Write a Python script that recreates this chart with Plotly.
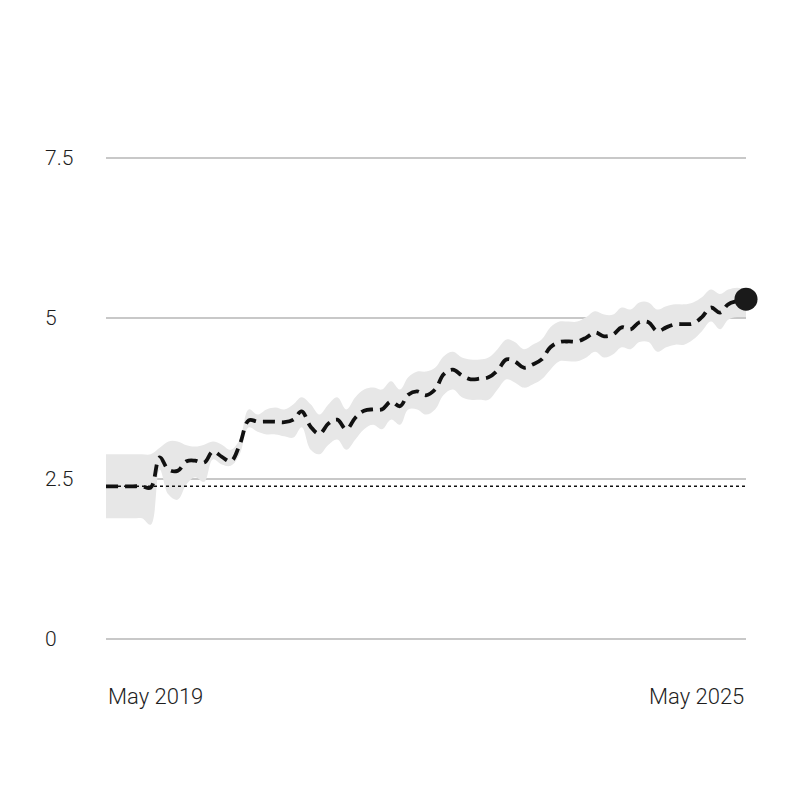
import pandas as pd
import plotly.graph_objects as go

dates = pd.date_range("2019-05-01", "2025-05-01", freq="MS")

line_values = [2.38, 2.38, 2.38, 2.38, 2.38, 2.36, 2.83, 2.64, 2.62, 2.77,
               2.78, 2.75, 2.92, 2.84, 2.77, 3.03, 3.41, 3.39, 3.39, 3.39,
               3.38, 3.42, 3.55, 3.31, 3.20, 3.36, 3.42, 3.27, 3.45, 3.56,
               3.58, 3.58, 3.70, 3.63, 3.81, 3.86, 3.80, 3.89, 4.13, 4.20,
               4.11, 4.05, 4.06, 4.08, 4.19, 4.36, 4.33, 4.23, 4.28, 4.36,
               4.55, 4.63, 4.64, 4.64, 4.70, 4.78, 4.72, 4.75, 4.86, 4.83,
               4.94, 4.94, 4.80, 4.86, 4.91, 4.91, 4.92, 5.02, 5.17, 5.09,
               5.22, 5.27, 5.30]

band_upper = [2.88, 2.88, 2.88, 2.88, 2.88, 2.88, 2.98, 3.08, 3.08, 3.02,
              3.00, 3.03, 3.08, 3.03, 2.95, 3.11, 3.58, 3.50, 3.58, 3.61,
              3.58, 3.66, 3.77, 3.66, 3.50, 3.66, 3.77, 3.58, 3.77, 3.89,
              3.92, 3.89, 4.02, 3.89, 4.08, 4.17, 4.17, 4.23, 4.41, 4.48,
              4.39, 4.36, 4.36, 4.39, 4.52, 4.67, 4.63, 4.52, 4.59, 4.67,
              4.86, 4.95, 4.95, 4.95, 5.02, 5.11, 5.06, 5.06, 5.17, 5.14,
              5.25, 5.25, 5.14, 5.19, 5.22, 5.22, 5.25, 5.33, 5.45, 5.38,
              5.45, 5.48, 5.45]

band_lower = [1.88, 1.88, 1.88, 1.88, 1.88, 1.78, 2.64, 2.25, 2.17, 2.41,
              2.52, 2.45, 2.80, 2.72, 2.70, 2.88, 3.30, 3.23, 3.19, 3.19,
              3.16, 3.14, 3.30, 2.95, 2.88, 3.03, 3.11, 2.95, 3.11, 3.27,
              3.34, 3.27, 3.42, 3.34, 3.58, 3.58, 3.50, 3.58, 3.81, 3.89,
              3.77, 3.73, 3.73, 3.73, 3.89, 4.05, 4.00, 3.92, 3.97, 4.05,
              4.20, 4.33, 4.33, 4.33, 4.39, 4.48, 4.39, 4.44, 4.55, 4.52,
              4.63, 4.63, 4.48, 4.55, 4.59, 4.59, 4.67, 4.80, 4.95, 4.83,
              4.98, 5.02, 5.02]

baseline_value = 2.38

y_ticks = [0, 2.5, 5, 7.5]
y_tick_labels = ["0", "2.5", "5", "7.5"]
x_tick_labels = ["May 2019", "May 2025"]

FONT = "Roboto, Inter, sans-serif"
TEXT_COLOR = "#1e1e1e"

fig = go.Figure()

fig.add_trace(go.Scatter(x=dates, y=band_lower, mode="lines",
                         line=dict(width=0, shape="spline", smoothing=1.1),
                         hoverinfo="skip", showlegend=False))
fig.add_trace(go.Scatter(x=dates, y=band_upper, mode="lines", fill="tonexty",
                         fillcolor="#e7e7e7",
                         line=dict(width=0, shape="spline", smoothing=1.1),
                         hoverinfo="skip", showlegend=False))

fig.add_trace(go.Scatter(x=[dates[0], dates[-1]], y=[baseline_value, baseline_value],
                         mode="lines", line=dict(color="#111111", width=1.5, dash="3px,3px"),
                         showlegend=False, cliponaxis=False))

fig.add_trace(go.Scatter(x=dates, y=line_values, mode="lines",
                         line=dict(color="#111111", width=3.8, dash="12px,7px",
                                   shape="spline", smoothing=1.1),
                         showlegend=False, cliponaxis=False))

fig.add_trace(go.Scatter(x=[dates[-1]], y=[line_values[-1]], mode="markers",
                         marker=dict(color="#1a1a1a", size=23),
                         showlegend=False, cliponaxis=False))

for v, lab in zip(y_ticks, y_tick_labels):
    fig.add_annotation(x=-0.099, xref="paper", y=v, yref="y", text=lab,
                       showarrow=False, xanchor="left", yanchor="middle",
                       font=dict(family=FONT, size=21, color=TEXT_COLOR, weight=300))

fig.add_annotation(x=0, xref="paper", y=-0.112, yref="paper", text=x_tick_labels[0],
                   showarrow=False, xanchor="left", yanchor="middle",
                   font=dict(family=FONT, size=22, color=TEXT_COLOR, weight=300))
fig.add_annotation(x=1, xref="paper", y=-0.112, yref="paper", text=x_tick_labels[1],
                   showarrow=False, xanchor="right", yanchor="middle",
                   font=dict(family=FONT, size=22, color=TEXT_COLOR, weight=300))

fig.update_layout(
    width=800, height=800,
    margin=dict(l=106, r=54, t=155, b=158),
    paper_bgcolor="white", plot_bgcolor="white",
    xaxis=dict(range=[dates[0], dates[-1]], showgrid=False, zeroline=False,
               showticklabels=False, showline=False),
    yaxis=dict(range=[-0.05, 7.55], tickvals=y_ticks, showticklabels=False,
               gridcolor="#c8c8c8", gridwidth=1.5, zeroline=False, showline=False),
)

fig.write_html("out.html")
